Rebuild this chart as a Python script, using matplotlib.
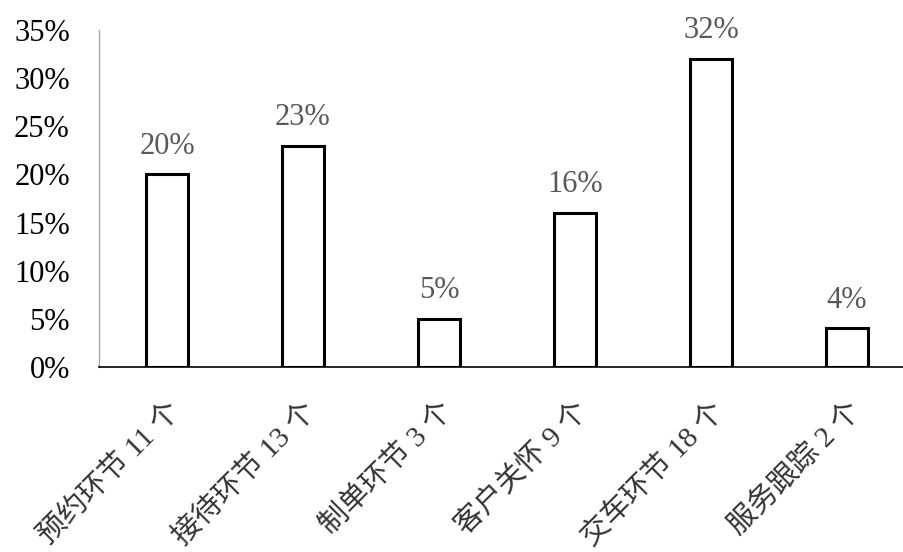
import matplotlib
matplotlib.use("Agg")
from matplotlib import pyplot as plt

categories = ["预约环节 11 个", "接待环节 13 个", "制单环节 3 个",
              "客户关怀 9 个", "交车环节 18 个", "服务跟踪 2 个"]
shares = [20, 23, 5, 16, 32, 4]
y_ticks = [0, 5, 10, 15, 20, 25, 30, 35]

plt.rcParams['font.family'] = ['Liberation Serif', 'Noto Sans CJK SC']

fig = plt.figure(figsize=(9.04, 5.52), dpi=100)
ax = fig.add_axes([99 / 904, 185 / 552, 816 / 904, 337 / 552])

x = list(range(len(categories)))
bars = ax.bar(x, shares, width=0.316, color="white", edgecolor="black", linewidth=2.2)

# 数値ラベル
for xi, v in zip(x, shares):
    ax.annotate("{}%".format(v), (xi, v), xytext=(0, 15), textcoords="offset points",
                ha="center", va="baseline", fontsize=22, color="#595959")

ax.set_xlim(-0.5, len(categories) - 0.5)
ax.set_ylim(0, 35)
ax.set_yticks(y_ticks)
ax.set_yticklabels(["{}%".format(t) for t in y_ticks], fontsize=22)
ax.set_xticks(x)
ax.set_xticklabels(categories, rotation=45, ha="right", rotation_mode="anchor",
                   fontsize=21, color="#333333", fontweight="light")
ax.tick_params(axis="y", length=0, pad=21)
ax.tick_params(axis="x", length=0, pad=22)

for s in ["top", "right"]:
    ax.spines[s].set_visible(False)
ax.spines["left"].set_color("#a6a6a6")
ax.spines["left"].set_linewidth(1)
ax.spines["bottom"].set_color("black")
ax.spines["bottom"].set_linewidth(1.2)

fig.savefig("out.png", dpi=100)
